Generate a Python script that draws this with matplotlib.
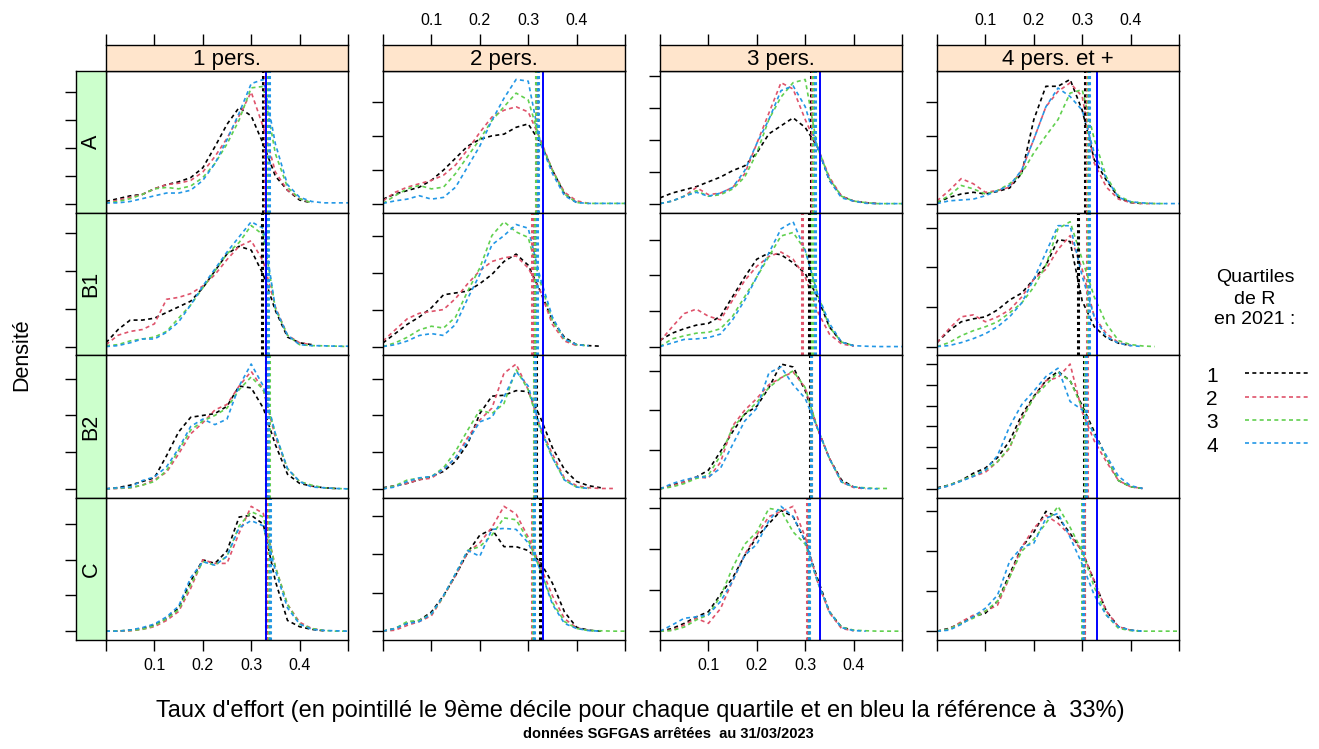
import matplotlib
matplotlib.use("Agg")
import matplotlib.pyplot as plt
import numpy as np
from matplotlib.lines import Line2D

plt.rcParams["font.family"] = ["Liberation Sans", "DejaVu Sans"]

W, H = 1319, 749

households = ["1 pers.", "2 pers.", "3 pers.", "4 pers. et +"]
zones = ["A", "B1", "B2", "C"]
quartiles = ["1", "2", "3", "4"]
colors = ["#000000", "#DF536B", "#61D04F", "#2297E6"]
reference = 0.33

# density estimates read at taux d'effort = 0, 0.025, ..., 0.5
x_grid = [0.0, 0.025, 0.05, 0.075, 0.1, 0.125, 0.15, 0.175, 0.2, 0.225, 0.25,
          0.275, 0.3, 0.325, 0.35, 0.375, 0.4, 0.425, 0.45, 0.475, 0.5]

# one list per quartile (1, 2, 3, 4) for each zone / household size
dens_A_1 = [
    [0.2, 0.4, 0.6, 0.7, 1.1, 1.4, 1.6, 1.9, 2.6, 4.1, 5.7, 6.9, 6.3, 4.3, 2.0, 1.0, 0.3, 0.1],
    [0.1, 0.3, 0.5, 0.7, 1.1, 1.4, 1.5, 1.7, 2.3, 3.4, 4.7, 6.3, 8.0, 5.5, 2.3, 1.0, 0.4, 0.1],
    [0.1, 0.2, 0.4, 0.7, 1.1, 1.2, 1.1, 1.3, 1.9, 2.9, 4.3, 6.0, 8.3, 8.4, 3.6, 1.2, 0.4, 0.1],
    [0.1, 0.1, 0.2, 0.4, 0.6, 0.8, 0.8, 1.0, 1.7, 2.9, 4.6, 6.5, 8.6, 8.9, 4.3, 1.4, 0.5, 0.2, 0.1, 0.1, 0.1],
]
dens_A_2 = [
    [0.3, 0.6, 0.8, 1.0, 1.4, 2.0, 2.7, 3.4, 3.8, 4.0, 4.1, 4.5, 4.7, 3.6, 2.0, 0.6, 0.1],
    [0.2, 0.7, 1.0, 1.2, 1.4, 1.7, 2.3, 3.2, 4.2, 5.1, 5.5, 5.7, 5.4, 3.8, 2.0, 0.7, 0.2, 0.05],
    [0.05, 0.5, 0.9, 1.1, 0.9, 1.0, 1.8, 2.8, 3.8, 4.9, 5.7, 6.5, 6.1, 3.7, 2.0, 0.6, 0.1, 0.05, 0.05, 0.05, 0.05],
    [0.05, 0.2, 0.3, 0.5, 0.3, 0.4, 1.0, 2.2, 3.4, 4.9, 6.2, 7.3, 7.2, 3.6, 1.8, 0.5, 0.1, 0.05, 0.05, 0.05, 0.05],
]
dens_A_3 = [
    [0.4, 0.7, 0.9, 1.1, 1.4, 1.7, 2.1, 2.4, 3.2, 4.4, 4.9, 5.4, 4.8, 3.6, 1.5, 0.5, 0.2, 0.1, 0.04],
    [0.04, 0.2, 0.5, 1.05, 0.6, 0.7, 1.05, 1.9, 3.8, 5.7, 7.6, 7.2, 5.3, 3.6, 1.7, 0.5, 0.2, 0.1, 0.04],
    [0.04, 0.2, 0.5, 0.85, 0.5, 0.6, 0.95, 1.7, 3.2, 5.3, 6.7, 7.6, 7.8, 3.6, 1.6, 0.5, 0.2, 0.1, 0.04, 0.04, 0.04],
    [0.04, 0.2, 0.5, 0.75, 0.5, 0.7, 1.05, 2.1, 3.8, 5.3, 7.1, 7.4, 6.1, 3.6, 1.5, 0.4, 0.2, 0.06, 0.04, 0.04, 0.04],
]
dens_A_4 = [
    [0.1, 0.4, 0.6, 0.7, 0.6, 0.75, 0.95, 1.8, 4.95, 6.9, 6.9, 7.3, 5.5, 2.6, 1.4, 0.4, 0.1, 0.04],
    [0.2, 0.8, 1.5, 1.2, 0.7, 0.8, 1.0, 2.0, 3.8, 5.7, 6.6, 7.1, 6.3, 2.4, 1.0, 0.3, 0.1, 0.04, 0.04],
    [0.1, 0.5, 1.1, 0.9, 0.6, 0.8, 1.2, 1.8, 3.0, 4.0, 4.95, 6.5, 6.7, 3.8, 1.6, 0.5, 0.15, 0.06, 0.04, 0.04],
    [0.04, 0.2, 0.25, 0.3, 0.5, 0.8, 1.1, 2.0, 3.8, 5.7, 6.8, 6.3, 5.5, 3.0, 1.5, 0.4, 0.15, 0.08, 0.04, 0.04, 0.04],
]
dens_B1_1 = [
    [0.2, 0.9, 1.4, 1.4, 1.5, 1.8, 2.1, 2.4, 3.1, 4.0, 4.9, 5.3, 5.1, 3.8, 1.9, 0.5, 0.2, 0.1],
    [0.1, 0.6, 0.8, 0.9, 1.2, 2.5, 2.6, 2.8, 3.2, 3.8, 4.6, 5.3, 5.6, 4.5, 2.1, 0.6, 0.2, 0.1],
    [0.05, 0.1, 0.3, 0.4, 0.5, 0.8, 1.5, 2.2, 3.1, 4.0, 4.9, 5.5, 6.4, 5.9, 2.0, 0.6, 0.1, 0.05, 0.04, 0.02, 0.0],
    [0.0, 0.05, 0.2, 0.4, 0.4, 0.75, 1.3, 2.2, 3.2, 4.1, 5.0, 5.8, 6.6, 6.25, 2.0, 0.6, 0.1, 0.05, 0.04, 0.02, 0.02],
]
dens_B1_2 = [
    [0.2, 0.7, 1.2, 1.6, 2.1, 2.8, 2.9, 3.0, 3.4, 3.9, 4.6, 5.0, 4.4, 3.0, 1.4, 0.5, 0.1, 0.05, 0.02],
    [0.3, 0.9, 1.5, 1.8, 1.9, 2.0, 2.6, 3.4, 4.1, 4.6, 4.8, 4.9, 4.25, 3.0, 1.2, 0.3, 0.05],
    [0.0, 0.2, 0.5, 0.9, 1.1, 1.0, 1.6, 3.0, 4.25, 6.0, 6.75, 6.2, 5.9, 3.5, 1.4, 0.4, 0.1, 0.04],
    [0.0, 0.1, 0.3, 0.6, 0.7, 0.6, 1.2, 2.6, 3.9, 5.5, 6.0, 6.6, 6.4, 3.7, 1.6, 0.4, 0.1, 0.04],
]
dens_B1_3 = [
    [0.35, 0.75, 1.0, 1.2, 1.3, 1.7, 2.8, 3.9, 4.9, 5.25, 5.15, 4.7, 4.1, 2.8, 1.1, 0.25, 0.05],
    [0.3, 1.1, 1.85, 2.1, 1.7, 1.5, 2.6, 3.7, 4.5, 5.05, 5.3, 4.9, 3.9, 2.0, 0.7, 0.15, 0.02],
    [0.0, 0.43, 0.6, 0.75, 0.8, 1.0, 1.7, 2.8, 3.9, 5.05, 6.2, 6.4, 5.4, 3.0, 1.1, 0.25, 0.05],
    [0.0, 0.2, 0.4, 0.43, 0.5, 0.7, 1.5, 2.6, 3.9, 5.25, 6.6, 7.0, 5.4, 3.0, 1.3, 0.25, 0.05, 0.02, 0.0, 0.0, 0.0],
]
dens_B1_4 = [
    [0.2, 0.8, 1.25, 1.4, 1.5, 1.85, 2.35, 2.7, 3.4, 4.1, 5.4, 5.3, 2.3, 1.0, 0.45, 0.17, 0.05],
    [0.2, 0.9, 1.5, 1.6, 1.25, 1.5, 1.85, 2.5, 3.4, 3.9, 4.9, 5.6, 3.9, 1.5, 0.65, 0.2, 0.05],
    [0.0, 0.2, 0.55, 0.8, 1.0, 1.25, 1.7, 2.2, 3.0, 4.1, 5.95, 6.3, 4.4, 2.5, 1.15, 0.3, 0.1, 0.03, 0.0],
    [0.0, 0.05, 0.2, 0.4, 0.65, 1.0, 1.5, 2.2, 3.4, 4.75, 6.1, 6.1, 3.55, 1.5, 0.5, 0.17, 0.05, 0.0],
]
dens_B2_1 = [
    [0.0, 0.07, 0.2, 0.4, 0.6, 1.8, 3.1, 3.9, 4.0, 4.1, 4.5, 5.6, 5.5, 4.4, 2.4, 0.8, 0.3, 0.15, 0.06, 0.02],
    [0.0, 0.02, 0.06, 0.2, 0.5, 0.9, 1.9, 3.0, 3.6, 4.3, 4.6, 5.6, 6.4, 5.4, 2.8, 1.1, 0.4, 0.15, 0.06, 0.02],
    [0.0, 0.04, 0.06, 0.2, 0.4, 1.0, 2.1, 3.2, 3.7, 4.0, 4.4, 5.4, 6.1, 5.4, 3.0, 1.1, 0.4, 0.2, 0.06, 0.02, 0.0],
    [0.0, 0.06, 0.1, 0.45, 0.65, 1.2, 2.2, 3.4, 3.8, 3.5, 3.8, 5.6, 6.8, 5.6, 3.0, 1.1, 0.4, 0.1, 0.06, 0.02, 0.0],
]
dens_B2_2 = [
    [0.06, 0.17, 0.3, 0.5, 0.67, 0.95, 1.5, 2.45, 4.1, 5.05, 5.1, 5.35, 5.3, 3.9, 2.25, 1.05, 0.4, 0.17, 0.06],
    [0.0, 0.17, 0.3, 0.5, 0.58, 1.05, 1.7, 2.8, 3.75, 4.4, 6.3, 6.8, 5.4, 3.35, 1.9, 0.58, 0.17, 0.06, 0.02, 0.02],
    [0.0, 0.17, 0.48, 0.58, 0.67, 1.15, 2.05, 3.2, 4.3, 4.1, 4.65, 6.5, 5.4, 3.2, 1.7, 0.48, 0.1, 0.02],
    [0.0, 0.1, 0.4, 0.6, 0.67, 1.05, 1.7, 2.6, 3.65, 3.9, 5.0, 6.4, 5.6, 3.35, 1.7, 0.48, 0.1, 0.02],
]
dens_B2_3 = [
    [0.0, 0.2, 0.35, 0.6, 0.95, 1.9, 2.9, 3.8, 4.2, 5.15, 6.35, 6.2, 5.0, 3.1, 1.55, 0.45, 0.1, 0.02],
    [0.0, 0.15, 0.35, 0.6, 0.55, 1.35, 3.2, 4.0, 4.6, 5.3, 5.65, 5.95, 5.15, 3.1, 1.55, 0.35, 0.07, 0.0],
    [0.0, 0.1, 0.27, 0.53, 0.7, 1.7, 3.1, 3.8, 4.4, 5.15, 5.65, 6.0, 5.15, 3.1, 1.55, 0.35, 0.1, 0.05, 0.02, 0.02],
    [0.0, 0.27, 0.45, 0.6, 0.6, 1.05, 2.25, 3.45, 4.1, 5.9, 6.2, 5.3, 4.6, 3.1, 1.55, 0.35, 0.1, 0.02, 0.0],
]
dens_B2_4 = [
    [0.05, 0.18, 0.4, 0.75, 1.0, 1.5, 2.3, 3.55, 4.45, 5.2, 5.65, 5.2, 4.0, 2.75, 1.5, 0.4, 0.1, 0.02],
    [0.0, 0.15, 0.4, 0.6, 0.8, 1.3, 1.95, 3.4, 4.4, 5.2, 5.35, 6.0, 3.7, 2.3, 1.3, 0.4, 0.1, 0.02],
    [0.0, 0.18, 0.4, 0.65, 0.9, 1.3, 2.0, 3.3, 4.4, 5.0, 5.6, 5.2, 3.9, 2.6, 1.5, 0.4, 0.1, 0.02],
    [0.0, 0.15, 0.37, 0.6, 0.9, 1.6, 3.0, 4.05, 4.7, 5.4, 5.8, 4.2, 3.8, 2.6, 1.6, 0.6, 0.15, 0.02],
]
dens_C_1 = [
    [0.0, 0.0, 0.06, 0.15, 0.35, 0.7, 1.3, 2.8, 4.0, 3.8, 4.5, 6.4, 6.5, 6.0, 2.8, 0.6, 0.25, 0.1, 0.02],
    [0.0, 0.0, 0.02, 0.1, 0.25, 0.6, 1.1, 2.4, 4.0, 3.8, 3.8, 5.5, 7.0, 6.6, 3.6, 1.5, 0.5, 0.15, 0.04],
    [0.0, 0.02, 0.04, 0.1, 0.3, 0.7, 1.2, 2.6, 3.9, 3.7, 4.2, 5.9, 6.7, 6.4, 3.6, 1.5, 0.4, 0.15, 0.04, 0.0, 0.0],
    [0.0, 0.0, 0.06, 0.2, 0.4, 0.8, 1.4, 3.0, 3.9, 3.7, 4.2, 5.8, 6.2, 5.9, 3.4, 1.3, 0.4, 0.1, 0.04, 0.02, 0.0],
]
dens_C_2 = [
    [0.0, 0.14, 0.4, 0.56, 1.0, 1.85, 2.9, 4.1, 5.0, 5.3, 4.4, 4.4, 4.2, 3.6, 2.5, 1.0, 0.2, 0.05, 0.0],
    [0.0, 0.05, 0.3, 0.5, 0.8, 1.8, 2.9, 4.1, 4.6, 5.4, 6.5, 6.1, 4.9, 3.4, 1.85, 0.65, 0.17, 0.05],
    [0.0, 0.14, 0.5, 0.56, 0.9, 1.8, 3.0, 4.2, 4.4, 5.0, 5.9, 5.8, 4.75, 3.2, 1.5, 0.5, 0.14, 0.03, 0.02, 0.0, 0.0],
    [0.0, 0.14, 0.4, 0.5, 0.9, 1.85, 3.0, 4.2, 3.9, 5.3, 5.35, 5.3, 4.6, 3.2, 1.4, 0.4, 0.14, 0.03, 0.0],
]
dens_C_3 = [
    [0.0, 0.13, 0.38, 0.7, 0.95, 1.8, 2.6, 3.7, 4.6, 5.25, 5.9, 5.6, 4.4, 2.6, 0.95, 0.2, 0.03],
    [0.0, 0.05, 0.3, 0.63, 0.38, 1.1, 2.45, 3.75, 4.7, 5.6, 5.85, 6.1, 4.6, 2.45, 0.9, 0.13, 0.02],
    [0.0, 0.03, 0.2, 0.55, 0.8, 1.7, 3.1, 4.25, 4.85, 6.0, 5.9, 4.85, 4.25, 2.45, 0.95, 0.2, 0.05, 0.02, 0.0, 0.0, 0.0],
    [0.0, 0.3, 0.63, 0.7, 0.8, 1.45, 2.45, 3.7, 4.25, 5.4, 6.1, 5.6, 4.4, 2.45, 0.95, 0.17, 0.03, 0.0],
]
dens_C_4 = [
    [0.0, 0.14, 0.4, 0.73, 0.9, 1.5, 2.85, 4.2, 4.95, 6.0, 5.7, 4.9, 4.0, 2.5, 1.0, 0.22, 0.05, 0.0],
    [0.0, 0.1, 0.47, 0.8, 1.0, 1.3, 2.7, 4.2, 5.15, 5.8, 5.4, 4.8, 4.0, 2.5, 1.0, 0.22, 0.05],
    [0.0, 0.1, 0.4, 0.65, 1.0, 1.5, 2.7, 4.0, 4.6, 5.4, 6.25, 5.2, 4.0, 2.2, 0.8, 0.14, 0.03, 0.0, 0.0, 0.0, 0.0],
    [0.0, 0.05, 0.34, 0.73, 1.15, 1.8, 3.5, 4.2, 4.4, 5.65, 5.9, 4.7, 3.35, 1.8, 0.8, 0.22, 0.05, 0.0],
]

# 9th decile of each quartile, per household size
decile9_A = [[0.324, 0.329, 0.331, 0.336], [0.318, 0.316, 0.317, 0.321],
             [0.311, 0.314, 0.317, 0.320], [0.306, 0.309, 0.312, 0.315]]
decile9_B1 = [[0.322, 0.330, 0.333, 0.335], [0.312, 0.308, 0.314, 0.318],
              [0.308, 0.294, 0.314, 0.320], [0.291, 0.309, 0.312, 0.315]]
decile9_B2 = [[0.330, 0.333, 0.336, 0.335], [0.316, 0.313, 0.311, 0.314],
              [0.310, 0.311, 0.312, 0.313], [0.304, 0.310, 0.306, 0.307]]
decile9_C = [[0.331, 0.334, 0.336, 0.339], [0.325, 0.307, 0.310, 0.313],
             [0.306, 0.304, 0.307, 0.308], [0.303, 0.304, 0.300, 0.302]]

x_ticks = [0.0, 0.1, 0.2, 0.3, 0.4, 0.5]
x_ticklabels = ["", "0.1", "0.2", "0.3", "0.4", ""]

panels = [
    [dens_A_1, dens_A_2, dens_A_3, dens_A_4],
    [dens_B1_1, dens_B1_2, dens_B1_3, dens_B1_4],
    [dens_B2_1, dens_B2_2, dens_B2_3, dens_B2_4],
    [dens_C_1, dens_C_2, dens_C_3, dens_C_4],
]
deciles = [decile9_A, decile9_B1, decile9_B2, decile9_C]
# y tick step of each panel (free y scales)
y_steps = [[2, 2, 2, 2], [2, 2, 2, 2], [2, 2, 2, 1], [2, 2, 2, 2]]

# layout in pixels
COL_LEFT = [106, 383, 660, 937]
PANEL_W = 242
ROW_TOP = [70.7, 213.0, 355.3, 497.6]
PANEL_H = 142.3
STRIP_TOP, STRIP_H = 44.7, 26.0
LSTRIP_X, LSTRIP_W = 76, 30
TICK_LEN = 7.9
CURVE_DASH = (0, (2.4, 2.0))

fig = plt.figure(figsize=(W / 100, H / 100), dpi=100)


def add_px_axes(x0, y0, w, h):
    return fig.add_axes([x0 / W, 1 - (y0 + h) / H, w / W, h / H])


def style_frame(ax):
    for s in ax.spines.values():
        s.set_linewidth(1.0)
        s.set_color("black")


for r, zone in enumerate(zones):
    for c, hh in enumerate(households):
        curves = panels[r][c]
        ax = add_px_axes(COL_LEFT[c], ROW_TOP[r], PANEL_W, PANEL_H)
        style_frame(ax)
        for q, y in enumerate(curves):
            ax.plot(x_grid[:len(y)], y, color=colors[q], lw=1.2, ls=CURVE_DASH)
        for q, d in enumerate(deciles[r][c]):
            ax.axvline(d, color=colors[q], lw=2.2, ls=(0, (1, 1)))
        ax.axvline(reference, color="blue", lw=1.4)

        top = max(max(y) for y in curves)
        ylim = (-0.07 * top, 1.07 * top)
        ax.set_xlim(0, 0.5)
        ax.set_ylim(*ylim)
        yt = np.arange(0, ylim[1], y_steps[r][c])
        ax.set_yticks(yt)
        ax.tick_params(axis="y", direction="out", length=TICK_LEN, width=1.0,
                       labelleft=False, left=(c > 0))

        if r == len(zones) - 1:
            ax.set_xticks(x_ticks)
            ax.set_xticklabels(x_ticklabels if c in (0, 2) else [""] * 6)
            ax.tick_params(axis="x", direction="out", length=TICK_LEN, width=1.0,
                           labelsize=11.5, pad=5)
        else:
            ax.set_xticks([])

        if c == 0:
            lax = add_px_axes(LSTRIP_X, ROW_TOP[r], LSTRIP_W, PANEL_H)
            lax.set_facecolor("#CCFFCC")
            style_frame(lax)
            lax.set_xlim(0, 1)
            lax.set_ylim(*ylim)
            lax.set_xticks([])
            lax.set_yticks(yt)
            lax.tick_params(axis="y", direction="out", length=TICK_LEN, width=1.0,
                            labelleft=False)
            lax.text(0.5, 0.5, zone, transform=lax.transAxes, rotation=90,
                     ha="center", va="center", fontsize=15.5)

        if r == 0:
            sax = add_px_axes(COL_LEFT[c], STRIP_TOP, PANEL_W, STRIP_H)
            sax.set_facecolor("#FFE5CC")
            style_frame(sax)
            sax.set_xlim(0, 0.5)
            sax.set_yticks([])
            sax.set_xticks(x_ticks)
            sax.set_xticklabels(x_ticklabels if c in (1, 3) else [""] * 6)
            sax.tick_params(axis="x", direction="out", length=TICK_LEN, width=1.0,
                            top=True, bottom=False, labeltop=True, labelbottom=False,
                            labelsize=11.5, pad=4)
            sax.text(0.5, 0.42, hh, transform=sax.transAxes, ha="center",
                     va="center", fontsize=16)

# axis labels and caption
fig.text(22 / W, 1 - 355 / H, "Densité", rotation=90, ha="center", va="center",
         fontsize=15.5)
fig.text(640 / W, 1 - 711 / H,
         "Taux d'effort (en pointillé le 9ème décile pour chaque quartile et en bleu la référence à  33%)",
         ha="center", va="center", fontsize=17)
fig.text(668 / W, 1 - 734 / H, "données SGFGAS arrêtées  au 31/03/2023",
         ha="center", va="center", fontsize=10.5, fontweight="bold",
         family=["Liberation Sans Narrow", "Liberation Sans", "DejaVu Sans"])

# legend
for i, line in enumerate(["Quartiles", "de R", "en 2021 :"]):
    fig.text(1255 / W, 1 - (278 + 21 * i) / H, line, ha="center", va="center",
             fontsize=14)
for q, lab in enumerate(quartiles):
    yy = 1 - (373.3 + 23.3 * q) / H
    fig.text(1212 / W, yy - 3 / H, lab, ha="center", va="center", fontsize=15)
    fig.add_artist(Line2D([1245 / W, 1308 / W], [yy, yy], color=colors[q],
                          lw=1.2, ls=CURVE_DASH, transform=fig.transFigure))

fig.savefig("out.png", dpi=100)
